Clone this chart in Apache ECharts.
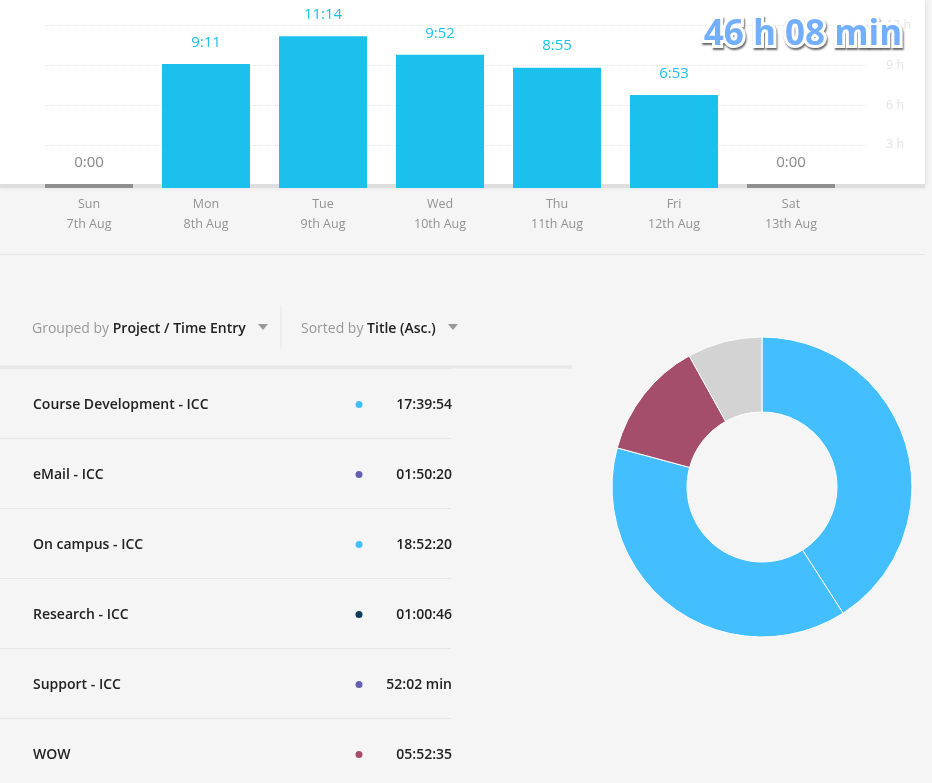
<!DOCTYPE html>
<html>
<head>
<meta charset="utf-8">
<style>
  html, body { margin: 0; padding: 0; background: #f5f5f5; }
  #chart { width: 932px; height: 783px; }
</style>
</head>
<body>
<div id="chart"></div>
<script src="https://cdn.jsdelivr.net/npm/echarts@6/dist/echarts.min.js"></script>
<script>
// weekly bars, in minutes
const days = ['Sun\n7th Aug', 'Mon\n8th Aug', 'Tue\n9th Aug', 'Wed\n10th Aug', 'Thu\n11th Aug', 'Fri\n12th Aug', 'Sat\n13th Aug'];
const dayMinutes = [0, 551, 674, 592, 535, 413, 0];

// list on the left
const entries = ['Course Development - ICC', 'eMail - ICC', 'On campus - ICC', 'Research - ICC', 'Support - ICC', 'WOW'];
const entryTimes = ['17:39:54', '01:50:20', '18:52:20', '01:00:46', '52:02 min', '05:52:35'];
const entryColors = ['#43bfff', '#655fb0', '#43bfff', '#0c3c5a', '#655fb0', '#a44e6b'];

// donut, in seconds
const sliceNames = ['On campus - ICC', 'Course Development - ICC', 'WOW', 'Other'];
const sliceSeconds = [67940, 63594, 21155, 13388];
const sliceColors = ['#43bfff', '#43bfff', '#a44e6b', '#d3d3d3'];

const TOTAL = '46 h 08 min';
const FONT = '"Open Sans", sans-serif';
const CYAN = '#1cc0ec';

function fmtMinutes(m) {
  const mm = m % 60;
  return Math.floor(m / 60) + ':' + (mm < 10 ? '0' + mm : mm);
}

const chart = echarts.init(document.getElementById('chart'), null, { renderer: 'canvas' });

function triangle(cx) {
  return {
    type: 'polygon',
    shape: { points: [[cx - 5, 324], [cx + 5, 324], [cx, 330]] },
    style: { fill: '#999' }
  };
}

function headerText(x, text) {
  return {
    type: 'text',
    x: x,
    y: 329,
    style: {
      text: text,
      verticalAlign: 'middle',
      rich: {
        g: { fontFamily: FONT, fontSize: 14, fill: '#999', color: '#999' },
        b: { fontFamily: FONT, fontSize: 14, fontWeight: 600, fill: '#222', color: '#222' }
      }
    }
  };
}

const rowLabel = { inside: true, color: '#222', fontSize: 14, fontWeight: 600, fontFamily: FONT };

chart.setOption({
  backgroundColor: '#f5f5f5',
  animation: false,
  textStyle: { fontFamily: FONT },
  grid: [
    // bars
    { left: 30.5, width: 819, top: 26, height: 162, outerBoundsMode: 'none' },
    // dotted hour lines, they have their own scale in the original
    { left: 45, width: 821, top: 25.5, height: 159, outerBoundsMode: 'none' },
    // list rows, the last one runs off the page
    { left: 0, width: 451, top: 368.5, height: 420, outerBoundsMode: 'none' },
    // row text sits a little under the middle of each row
    { left: 0, width: 451, top: 370.5, height: 420, outerBoundsMode: 'none' }
  ],
  xAxis: [
    {
      gridIndex: 0,
      type: 'category',
      data: days,
      axisLine: { show: false },
      axisTick: { show: false },
      axisLabel: { color: '#929292', fontSize: 12.5, lineHeight: 20, margin: 6, fontFamily: FONT }
    },
    { gridIndex: 1, type: 'value', show: false, min: 0, max: 1 },
    { gridIndex: 2, type: 'value', show: false, min: 0, max: 451 },
    { gridIndex: 3, type: 'value', show: false, min: 0, max: 451 }
  ],
  yAxis: [
    { gridIndex: 0, type: 'value', show: false, min: 0, max: 720 },
    {
      gridIndex: 1,
      type: 'value',
      position: 'right',
      min: 0,
      max: 12,
      interval: 3,
      axisLine: { show: false },
      axisTick: { show: false },
      axisLabel: {
        color: '#e4e4e4',
        fontSize: 12.5,
        margin: 20,
        fontFamily: FONT,
        formatter: function (v) { return v === 0 ? '' : v + ' h'; }
      },
      splitLine: { showMinLine: false, lineStyle: { color: '#e8e8e8', type: 'dotted', width: 1 } }
    },
    {
      gridIndex: 2,
      type: 'category',
      inverse: true,
      data: entries,
      axisLine: { show: false },
      axisTick: { show: false },
      axisLabel: { show: false },
      splitLine: { show: true, lineStyle: { color: '#e6e6e6', width: 1 } }
    },
    {
      gridIndex: 3,
      type: 'category',
      inverse: true,
      data: entries,
      axisLine: { show: false },
      axisTick: { show: false },
      axisLabel: Object.assign({ margin: 33 }, rowLabel),
      splitLine: { show: false }
    },
    {
      gridIndex: 3,
      type: 'category',
      inverse: true,
      position: 'right',
      data: entryTimes,
      axisLine: { show: false },
      axisTick: { show: false },
      axisLabel: Object.assign({ margin: -1, align: 'right' }, rowLabel),
      splitLine: { show: false }
    }
  ],
  series: [
    {
      type: 'bar',
      xAxisIndex: 0,
      yAxisIndex: 0,
      barWidth: 88,
      barMinHeight: 4,
      data: dayMinutes.map(function (m) {
        return {
          value: m,
          itemStyle: { color: m > 0 ? CYAN : '#8f8f8f' },
          label: { color: m > 0 ? CYAN : '#888' }
        };
      }),
      label: {
        show: true,
        position: 'top',
        distance: 14,
        fontSize: 15,
        fontFamily: FONT,
        formatter: function (p) { return fmtMinutes(p.value); }
      }
    },
    {
      type: 'scatter',
      xAxisIndex: 2,
      yAxisIndex: 2,
      symbolSize: 7,
      symbolOffset: [0, 1],
      data: entries.map(function (name, i) {
        return { value: [359, i], itemStyle: { color: entryColors[i], opacity: 1 } };
      })
    },
    {
      type: 'pie',
      center: [762, 487],
      radius: [75, 150],
      startAngle: 90,
      clockwise: true,
      label: { show: false },
      labelLine: { show: false },
      itemStyle: { borderColor: '#fff', borderWidth: 1 },
      data: sliceNames.map(function (name, i) {
        return { name: name, value: sliceSeconds[i], itemStyle: { color: sliceColors[i] } };
      })
    }
  ],
  graphic: [
    // white panel behind the bars
    {
      type: 'rect',
      z: -2,
      shape: { x: 0, y: 0, width: 925, height: 186 },
      style: { fill: '#fff', shadowBlur: 5, shadowColor: 'rgba(0,0,0,0.12)', shadowOffsetY: 1 }
    },
    { type: 'rect', z: -1, shape: { x: 0, y: 184, width: 925, height: 4 }, style: { fill: '#dedede' } },
    { type: 'rect', z: -1, shape: { x: 0, y: 254, width: 925, height: 1 }, style: { fill: '#e6e6e6' } },
    { type: 'rect', z: -1, shape: { x: 0, y: 365.5, width: 572, height: 3 }, style: { fill: '#e8e8e8' } },
    { type: 'rect', z: -1, shape: { x: 280.5, y: 305, width: 1, height: 43 }, style: { fill: '#e6e6e6' } },
    headerText(32, '{g|Grouped by }{b|Project / Time Entry}'),
    headerText(301, '{g|Sorted by }{b|Title (Asc.)}'),
    triangle(263),
    triangle(453),
    // total added on top of the screenshot: white halo with shadow, then the fill
    {
      type: 'text',
      z: 100,
      x: 803,
      y: 35,
      style: {
        text: TOTAL,
        align: 'center',
        verticalAlign: 'middle',
        fontFamily: FONT,
        fontSize: 35,
        fontWeight: 700,
        fill: 'transparent',
        stroke: '#fff',
        lineWidth: 6,
        textShadowColor: 'rgba(0,0,0,0.6)',
        textShadowBlur: 2,
        textShadowOffsetX: 1,
        textShadowOffsetY: 2
      }
    },
    {
      type: 'text',
      z: 101,
      x: 803,
      y: 35,
      style: {
        text: TOTAL,
        align: 'center',
        verticalAlign: 'middle',
        fontFamily: FONT,
        fontSize: 35,
        fontWeight: 700,
        fill: '#74aeff'
      }
    }
  ]
});
</script>
</body>
</html>
